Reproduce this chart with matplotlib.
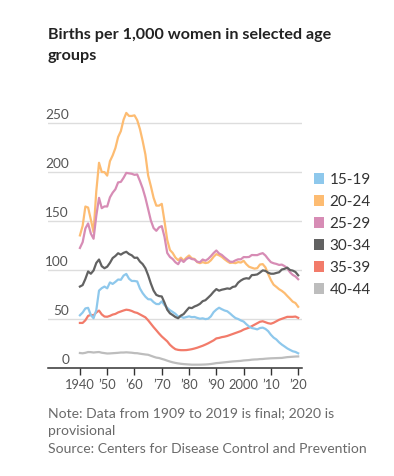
import matplotlib
matplotlib.use('Agg')
import matplotlib.pyplot as plt
from matplotlib.patches import Patch
import numpy as np

plt.rcParams['font.family'] = ['Lato', 'DejaVu Sans']

years = np.arange(1940, 2021)

age_15_19 = [54.1, 56.9, 61.1, 61.7, 54.3, 51.1, 59.3, 79.3, 81.8, 83.4,
             81.6, 87.6, 86.1, 88.2, 90.6, 90.3, 94.6, 96.3, 91.4, 89.1,
             89.1, 88.6, 81.4, 76.7, 73.1, 70.5, 70.3, 67.5, 65.6, 65.5,
             68.3, 64.5, 61.7, 59.3, 57.5, 55.6, 52.8, 52.8, 51.5, 52.3,
             53.0, 52.2, 52.4, 51.4, 50.6, 51.0, 50.2, 50.6, 53.0, 57.3,
             59.9, 61.8, 60.3, 59.0, 58.2, 56.0, 53.5, 51.3, 50.3, 48.8,
             47.7, 45.0, 42.6, 41.1, 40.5, 39.7, 41.1, 41.5, 40.2, 37.9,
             34.2, 31.3, 29.4, 26.5, 24.2, 22.3, 20.3, 18.8, 17.4, 16.7, 15.3]

age_20_24 = [135.6, 145.4, 165.1, 164.0, 151.8, 138.9, 180.6, 209.7, 200.3, 200.2,
             196.6, 211.3, 217.2, 224.7, 236.0, 242.0, 253.7, 260.6, 257.5, 257.5,
             258.1, 253.2, 244.1, 231.9, 218.2, 196.8, 185.9, 174.0, 166.0, 166.0,
             167.8, 150.1, 131.0, 120.7, 117.7, 113.0, 110.3, 112.9, 109.9, 112.8,
             115.1, 112.2, 111.6, 108.3, 107.3, 108.3, 107.4, 107.9, 110.2, 113.8,
             116.5, 115.3, 113.7, 111.3, 109.2, 107.5, 107.8, 107.3, 108.4, 107.9,
             109.7, 106.2, 103.6, 102.6, 101.7, 102.2, 105.9, 106.3, 103.0, 96.2,
             90.0, 85.3, 83.1, 80.7, 79.0, 76.8, 73.8, 71.0, 68.0, 66.6, 62.8]

age_25_29 = [122.8, 128.7, 142.7, 147.8, 137.5, 132.2, 155.6, 173.9, 163.4, 165.2,
             165.1, 174.4, 179.2, 182.7, 189.7, 190.2, 194.4, 199.4, 198.9, 198.5,
             197.4, 197.8, 191.1, 183.6, 174.0, 162.5, 150.8, 143.1, 140.3, 143.8,
             145.1, 134.1, 117.7, 113.6, 111.5, 108.2, 106.2, 111.0, 108.5, 111.4,
             112.9, 111.5, 111.0, 108.7, 108.3, 111.0, 109.8, 111.6, 114.4, 117.6,
             120.2, 117.2, 115.7, 113.2, 111.0, 108.8, 108.6, 110.1, 111.2, 111.2,
             113.5, 113.4, 113.6, 115.6, 115.5, 115.5, 116.7, 117.5, 115.1, 111.5,
             108.3, 107.2, 106.5, 105.5, 105.8, 104.3, 102.1, 98.0, 95.3, 93.7, 90.9]

age_30_34 = [83.4, 84.9, 91.2, 98.8, 96.5, 99.8, 107.5, 111.0, 104.2, 102.1,
             103.7, 107.6, 112.5, 114.6, 117.4, 116.0, 117.8, 118.9, 116.6, 115.3,
             112.7, 112.9, 108.9, 106.3, 102.1, 95.0, 86.5, 79.3, 74.9, 73.7,
             73.3, 67.0, 59.8, 56.1, 54.3, 52.3, 51.1, 53.8, 55.3, 58.7,
             61.9, 61.4, 63.1, 64.2, 65.8, 68.5, 69.5, 72.1, 74.8, 78.1,
             80.8, 79.2, 80.2, 80.8, 81.5, 81.1, 83.0, 83.6, 87.4, 89.6,
             91.2, 91.9, 91.5, 95.1, 95.3, 95.8, 97.7, 99.9, 99.4, 97.5,
             96.5, 96.5, 97.3, 98.0, 100.8, 101.5, 102.7, 100.3, 99.7, 98.3, 94.9]

age_35_39 = [46.3, 46.3, 49.0, 53.5, 54.5, 54.0, 57.0, 58.9, 55.0, 52.8,
             52.6, 53.5, 54.8, 55.5, 57.0, 58.0, 59.0, 59.8, 59.4, 58.5,
             57.2, 56.5, 55.0, 53.5, 52.0, 49.0, 45.5, 42.0, 38.8, 35.5,
             32.5, 30.0, 27.5, 24.0, 21.5, 19.5, 18.8, 18.5, 18.5, 18.6,
             19.0, 19.5, 20.2, 21.0, 22.0, 23.0, 24.2, 25.5, 27.0, 28.5,
             30.5, 31.0, 31.8, 32.3, 33.0, 34.0, 35.0, 36.0, 37.0, 38.0,
             39.5, 40.5, 41.5, 43.0, 44.5, 46.0, 47.5, 48.0, 47.0, 46.0,
             45.5, 46.5, 48.0, 49.5, 50.5, 51.5, 52.5, 52.5, 52.5, 52.8, 51.5]

age_40_44 = [15.6, 15.3, 15.8, 16.6, 16.5, 16.1, 16.4, 16.6, 15.9, 15.5,
             15.1, 15.2, 15.4, 15.6, 15.8, 16.1, 16.1, 16.3, 16.1, 15.9,
             15.5, 15.4, 14.9, 14.5, 14.1, 13.8, 12.8, 11.8, 10.9, 10.5,
             9.6, 8.8, 7.8, 6.9, 6.1, 5.5, 5.0, 4.6, 4.3, 4.1,
             3.9, 3.7, 3.7, 3.7, 3.7, 3.8, 3.9, 4.1, 4.4, 4.8,
             5.3, 5.5, 5.8, 6.1, 6.4, 6.7, 7.0, 7.2, 7.4, 7.6,
             8.0, 8.2, 8.4, 8.8, 9.0, 9.1, 9.4, 9.5, 9.8, 10.0,
             10.2, 10.3, 10.4, 10.5, 10.6, 11.0, 11.4, 11.6, 11.8, 12.0, 12.1]

labels = ['15-19', '20-24', '25-29', '30-34', '35-39', '40-44']
colors = ['#8ec8ec', '#fdbc72', '#d78cb5', '#626262', '#f27b6a', '#bdbdbd']
series = [age_15_19, age_20_24, age_25_29, age_30_34, age_35_39, age_40_44]

x_ticks = [1940, 1950, 1960, 1970, 1980, 1990, 2000, 2010, 2020]
x_tick_labels = ['1940', '\u201950', '\u201960', '\u201970', '\u201980', '\u201990', '2000', '\u201910', '\u201920']
y_ticks = [0, 50, 100, 150, 200, 250]

fig = plt.figure(figsize=(3.94, 4.76), dpi=100)
ax = fig.add_axes([48 / 394, 1 - 368.3 / 476, 254 / 394, 265 * 0.98 / 476])

for v in y_ticks[1:]:
    ax.axhline(v, color='#dddddd', linewidth=1, zorder=0)

# draw the older-age lines first so the young ones sit on top
order = [5, 4, 0, 1, 2, 3]
for i in order:
    ax.plot(years, series[i], color=colors[i], linewidth=1.6, solid_joinstyle='round', zorder=2)

ax.set_xlim(1928.3, 2021.4)
ax.set_ylim(0, 265)

for s in ['top', 'right', 'left']:
    ax.spines[s].set_visible(False)
ax.spines['bottom'].set_color('#333333')
ax.spines['bottom'].set_linewidth(1.1)

ax.set_xticks(x_ticks)
ax.set_xticklabels(x_tick_labels)
ax.tick_params(axis='x', direction='out', length=5, width=1, color='#333333',
               labelsize=9.3, labelcolor='#555555', pad=3)
ax.set_yticks([])

for v in y_ticks:
    ax.text(1936.0, v + 2, str(v), ha='right', va='bottom', fontsize=9.8, color='#555555')

fig.text(48 / 394, 1 - 28 / 476, 'Births per 1,000 women in selected age\ngroups',
         ha='left', va='top', fontsize=11.6, fontweight='bold', color='#222222', linespacing=1.6)

fig.text(48 / 394, 1 - 407 / 476,
         'Note: Data from 1909 to 2019 is final; 2020 is\nprovisional\nSource: Centers for Disease Control and Prevention',
         ha='left', va='top', fontsize=10.1, color='#6a6a6a', linespacing=1.58)

handles = [Patch(facecolor=c, edgecolor='none') for c in colors]
fig.legend(handles, labels, loc='upper left', bbox_to_anchor=(314 / 394, 1 - 173 / 476),
           bbox_transform=fig.transFigure, frameon=False, fontsize=11,
           handlelength=0.66, handleheight=0.66, handletextpad=0.36,
           labelspacing=0.52, borderpad=0, borderaxespad=0, labelcolor='#333333')

fig.savefig('out.png', dpi=100)
